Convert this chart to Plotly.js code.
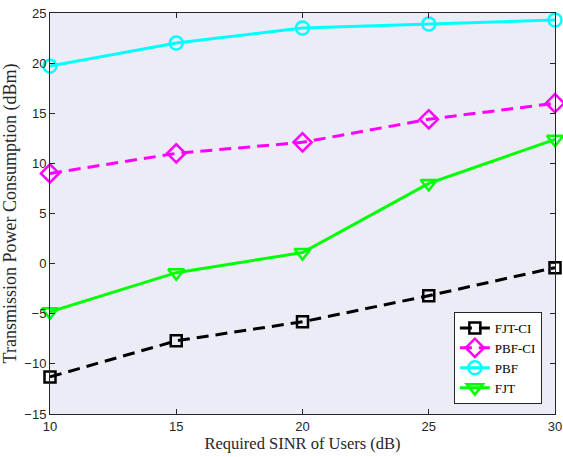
<!DOCTYPE html>
<html><head><meta charset="utf-8">
<script src="https://cdn.plot.ly/plotly-3.0.1.min.js"></script>
<style>html,body{margin:0;padding:0;background:#fff}</style>
</head><body><div id="chart" style="width:563px;height:457px"></div>
<script>
const sinr = [10, 15, 20, 25, 30];
const fjtCI = [-11.3, -7.7, -5.8, -3.2, -0.4];
const pbfCI = [9.0, 11.0, 12.1, 14.4, 16.0];
const pbf = [19.7, 22.0, 23.5, 23.9, 24.3];
const fjt = [-4.8, -0.9, 1.1, 8.0, 12.4];
const xTicks = [10, 15, 20, 25, 30];
const yTicks = [-15, -10, -5, 0, 5, 10, 15, 20, 25];

const mk = (name, y, color, dash, symbol, size) => ({
  x: sinr, y: y, name: name, type: 'scatter', mode: 'lines+markers', cliponaxis: false,
  line: {color: color, width: 3, dash: dash},
  marker: {symbol: symbol, size: size, color: color, line: {color: color, width: 2.5}}
});
const data = [
  mk('FJT-CI', fjtCI, '#000000', '12px,7px', 'square-open', 11),
  mk('PBF-CI', pbfCI, '#FF00FF', '12px,7px', 'diamond-open', 14),
  mk('PBF', pbf, '#00FFFF', 'solid', 'circle-open', 13),
  mk('FJT', fjt, '#00FF00', 'solid', 'triangle-down-open', 14)
];
const axisCommon = {
  showgrid: false, zeroline: false, showline: true, linecolor: '#262626', linewidth: 1,
  mirror: 'ticks', ticks: 'inside', ticklen: 5, tickcolor: '#262626',
  tickfont: {family: 'Liberation Sans, Arial, sans-serif', size: 13, color: '#262626'}
};
const layout = {
  width: 563, height: 457,
  margin: {l: 50, r: 8, t: 13, b: 43},
  paper_bgcolor: '#ffffff', plot_bgcolor: '#ECECF6',
  showlegend: true,
  legend: {x: 0.974, y: 0.025, xanchor: 'right', yanchor: 'bottom',
    bgcolor: '#ffffff', bordercolor: '#262626', borderwidth: 1,
    font: {family: 'Liberation Serif, Times New Roman, serif', size: 13, color: '#000'},
    tracegroupgap: 0, itemwidth: 30},
  xaxis: Object.assign({}, axisCommon, {range: [10, 30], tickvals: xTicks,
    title: {text: 'Required SINR of Users (dB)', standoff: 3,
      font: {family: 'Liberation Serif, Times New Roman, serif', size: 16.5, color: '#262626'}}}),
  yaxis: Object.assign({}, axisCommon, {range: [-15, 25], tickvals: yTicks,
    title: {text: 'Transmission Power Consumption (dBm)', standoff: 8,
      font: {family: 'Liberation Serif, Times New Roman, serif', size: 18, color: '#262626'}}})
};
Plotly.newPlot('chart', data, layout, {displayModeBar: false});
</script></body></html>
